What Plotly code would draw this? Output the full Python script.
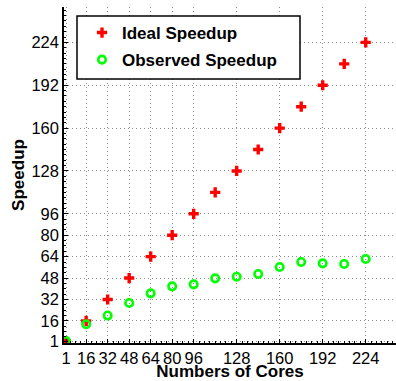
import plotly.graph_objects as go

cores = [1, 16, 32, 48, 64, 80, 96, 112, 128, 144, 160, 176, 192, 208, 224]
ideal_speedup = [1, 16, 32, 48, 64, 80, 96, 112, 128, 144, 160, 176, 192, 208, 224]
observed_speedup = [1, 13.5, 20, 29.4, 36.6, 41.8, 43.3, 47.8, 49, 51, 56.3, 60, 59, 58.5, 62.2]
x_ticks = [1, 16, 32, 48, 64, 80, 96, 128, 160, 192, 224]
y_ticks = [1, 16, 32, 48, 64, 80, 96, 128, 160, 192, 224]

FONT = "Liberation Sans, Arial, Helvetica, sans-serif"
W, H = 396, 381
ML, MR, MT, MB = 64, 0, 7, 38
PW, PH = W - ML - MR, H - MT - MB
XS, YS = 1.344, 1.339  # px per unit

fig = go.Figure()
fig.add_trace(go.Scatter(
    x=cores, y=ideal_speedup, mode="markers", name="Ideal Speedup",
    legendgroup="a",
    marker=dict(symbol="cross", size=8.5, color="#ff0000", line=dict(width=0)),
))
fig.add_trace(go.Scatter(
    x=cores, y=observed_speedup, mode="markers", name="Observed Speedup",
    legendgroup="b",
    marker=dict(symbol="circle-open", size=7.5, color="#00ff00", line=dict(width=2.6, color="#00ff00")),
))

def px2paper_x(px):
    return (px - ML) / PW

def px2paper_y(py):
    return (H - MB - py) / PH

fig.add_shape(type="rect", xref="paper", yref="paper",
              x0=px2paper_x(77), x1=px2paper_x(300), y0=px2paper_y(79), y1=px2paper_y(16),
              line=dict(color="black", width=1.5), fillcolor="white", layer="above")

tickfont = dict(family=FONT, size=16.5, color="black")
titlefont = dict(family=FONT, size=17, color="black", weight="bold")
grid = dict(showgrid=True, gridcolor="#8c8c8c", gridwidth=1, griddash="1px,3px", zeroline=False,
            showline=True, linecolor="black", linewidth=1.5, tickcolor="black", tickwidth=1,
            ticks="inside", ticklen=4,
            minor=dict(ticks="inside", ticklen=2, tickcolor="black", tick0=0, dtick=4, showgrid=False))

x0 = 1 - 2.0 / XS
y0 = 1 - 2.0 / YS
fig.update_layout(
    width=W, height=H,
    margin=dict(l=ML, r=MR, t=MT, b=MB),
    paper_bgcolor="white", plot_bgcolor="white",
    showlegend=True,
    legend=dict(x=px2paper_x(82), y=px2paper_y(15), xanchor="left", yanchor="top",
                bgcolor="rgba(0,0,0,0)", borderwidth=0, tracegroupgap=2,
                font=dict(family=FONT, size=17, color="black", weight="bold")),
    xaxis=dict(range=[x0, x0 + PW / XS], tickvals=x_ticks, ticktext=[str(v) for v in x_ticks],
               ticklabelstandoff=-1, tickfont=tickfont,
               title=dict(text="Numbers of Cores", standoff=4, font=titlefont),
               automargin=False, **grid),
    yaxis=dict(range=[y0, y0 + PH / YS], tickvals=y_ticks, ticktext=[str(v) for v in y_ticks],
               ticklabelstandoff=0, tickfont=tickfont,
               title=dict(text="Speedup", standoff=2, font=titlefont),
               automargin=False, **grid),
)

fig.write_html("out.html", config={"displayModeBar": False},
               post_script="document.body.style.margin='0';")
